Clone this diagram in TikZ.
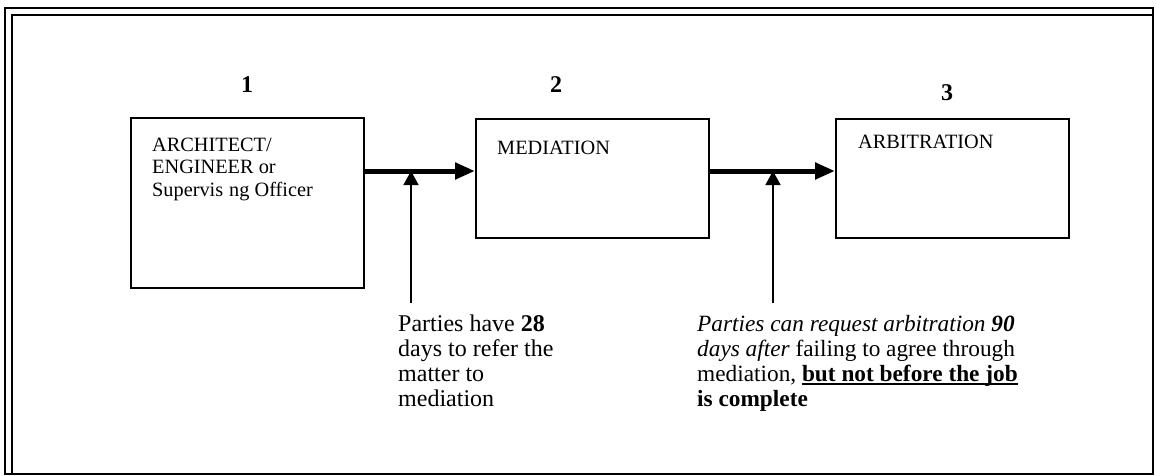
\documentclass[tikz,border=0pt]{standalone}
\usepackage{fontspec}
\setmainfont{Liberation Serif}
\usetikzlibrary{arrows.meta,calc}
% heavy underline set just below the baseline
\newsavebox\heavyulbox
\newcommand\heavyul[1]{\sbox\heavyulbox{#1}\usebox\heavyulbox\llap{\rule[-3.6pt]{\wd\heavyulbox}{1.7pt}}}
\begin{document}
\begin{tikzpicture}[x=1pt,y=-1pt,
  stage/.style={draw,line width=1.8pt,minimum width=233pt,inner sep=0pt,anchor=north west},
  boxtext/.style={font=\fontsize{20.3}{22.5}\selectfont,align=left,anchor=base west,inner sep=0pt},
  num/.style={font=\fontsize{24}{24}\selectfont\bfseries,anchor=base,inner sep=0pt},
  note/.style={font=\fontsize{24}{25}\selectfont,align=left,anchor=base west,inner sep=0pt},
  flow/.style={line width=5pt,-{Triangle[length=20pt,width=16pt]}},
  pointer/.style={line width=1.6pt,-{Triangle[length=14pt,width=15pt]}},
  frame/.style={line width=2pt}]
\useasboundingbox (0,0) rectangle (1156,476);

% page frame: double rule on the left and top
\draw[frame] (5,8) rectangle (1153,474);
\draw[frame] (12,474) -- (12,15) -- (1153,15);

% stages
\node[stage,minimum height=170pt] (box1) at (130,117) {};
\node[stage,minimum height=119pt] (box2) at (475,118) {};
\node[stage,minimum height=119pt] (box3) at (835,118) {};

\node[num] (n1) at (247,93) {1};
\node[num] (n2) at (556,93) {2};
\node[num] (n3) at (947,101) {3};

% multi-line nodes are placed by the baseline of their last line
\node[boxtext] (t1) at (152,196) {ARCHITECT/\\ENGINEER or\\Supervis\hspace{6pt}ng Officer};
\node[boxtext] (t2) at (497,154) {MEDIATION};
\node[boxtext] (t3) at (858,149) {ARBITRATION};

% flow between stages
\coordinate (a1) at ($(box1.north east)+(0,54)$);
\coordinate (b1) at ($(box2.north west)+(0,53)$);
\coordinate (a2) at ($(box2.north east)+(0,53)$);
\coordinate (b2) at ($(box3.north west)+(0,53)$);
\draw[flow] (a1) -- (b1);
\draw[flow] (a2) -- (b2);

% time-limit pointers
\coordinate (p1) at (411,303);
\coordinate (q1) at (411,171);
\coordinate (p2) at (773,303);
\coordinate (q2) at (773,171);
\draw[pointer] (p1) -- (q1);
\draw[pointer] (p2) -- (q2);

\node[note] (c1) at (398,406) {Parties have \textbf{28}\\days to refer the\\matter to\\mediation};
\node[note,font=\fontsize{23.3}{25}\selectfont] (c2) at (697,406) {\textit{Parties can request arbitration \textbf{90}}\\\textit{days after} failing to agree through\\mediation, \heavyul{\textbf{but not before the job}}\\\textbf{is complete}};
\end{tikzpicture}
\end{document}
